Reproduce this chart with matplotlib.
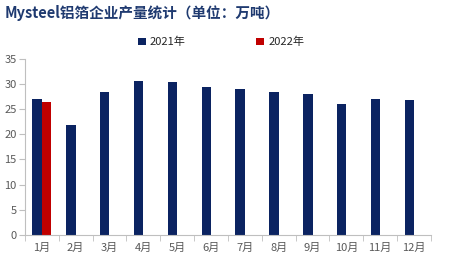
import numpy as np
import matplotlib
matplotlib.use("Agg")
import matplotlib.pyplot as plt

plt.rcParams['font.family'] = ['Noto Sans CJK SC', 'DejaVu Sans']

months = ["1月", "2月", "3月", "4月", "5月", "6月", "7月", "8月", "9月", "10月", "11月", "12月"]
y2021 = [27.0, 21.8, 28.4, 30.6, 30.4, 29.4, 29.0, 28.4, 28.0, 26.0, 27.0, 26.8]
y2022 = [26.4]

c2021 = "#0B2361"
c2022 = "#C00000"
gray = "#595959"

fig = plt.figure(figsize=(4.68, 2.71), dpi=100)
ax = fig.add_axes([0.053, 0.133, 0.868, 0.651])

x = np.arange(len(months))
w = 0.28
ax.bar(x - w / 2, y2021, w, color=c2021, label="2021年")
ax.bar(x[:len(y2022)] + w / 2, y2022, w, color=c2022, label="2022年")

ax.set_xlim(-0.5, len(months) - 0.5)
ax.set_ylim(0, 35)
ax.set_yticks(range(0, 36, 5))
ax.set_xticks(x)
ax.set_xticklabels(months)
ax.set_xticks(np.arange(-0.5, len(months), 1), minor=True)
ax.tick_params(axis='x', which='major', length=0, pad=6, labelsize=8, labelcolor=gray)
ax.tick_params(axis='x', which='minor', length=4, color="#BFBFBF")
ax.tick_params(axis='y', length=4, color="#BFBFBF", labelsize=8, labelcolor=gray, pad=2)

for s in ["top", "right"]:
    ax.spines[s].set_visible(False)
for s in ["left", "bottom"]:
    ax.spines[s].set_color("#BFBFBF")
    ax.spines[s].set_linewidth(0.8)

fig.legend(loc="upper center", bbox_to_anchor=(0.472, 0.90), ncol=2, frameon=False,
           fontsize=8, handlelength=0.7, handleheight=0.7, columnspacing=6.3,
           handletextpad=0.4, labelcolor="#262626")

fig.text(0.01, 0.952, "Mysteel铝箔企业产量统计（单位：万吨）", fontsize=10.5,
         fontweight="bold", color="#1F3A70", va="center", ha="left")

fig.savefig("out.png", dpi=100)
